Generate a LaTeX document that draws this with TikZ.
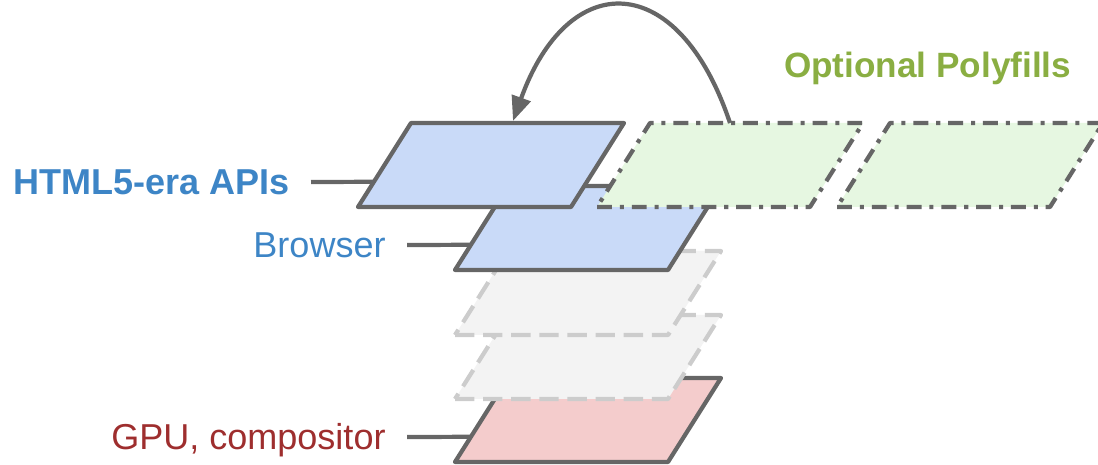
\documentclass[tikz,border=0pt]{standalone}
\usepackage{fontspec}
\setmainfont{Liberation Sans}
\usetikzlibrary{arrows.meta,calc}

\definecolor{edge}{RGB}{102,102,102}
\definecolor{ghostedge}{RGB}{204,204,204}
\definecolor{ghostfill}{RGB}{243,243,243}
\definecolor{bluefill}{RGB}{201,218,248}
\definecolor{redfill}{RGB}{244,204,204}
\definecolor{greenfill}{RGB}{230,247,225}
\definecolor{bluetext}{RGB}{61,133,198}
\definecolor{redtext}{RGB}{158,46,46}
\definecolor{greentext}{RGB}{138,174,66}

\newcommand{\tagsize}{\fontsize{20.5}{24}\selectfont}

\tikzset{
  solidlayer/.style = {draw = edge, line join = round},
  ghostlayer/.style = {draw = ghostedge, fill = ghostfill, line join = round,
                       dash pattern = on 11pt off 5pt},
  polylayer/.style = {draw = edge, fill = greenfill, line join = round,
                      dash pattern = on 8.5pt off 4.5pt on 2.3pt off 4.5pt},
  tag/.style = {anchor = east, font = \tagsize, inner xsep = 11pt, inner ysep = 0pt,
                text height = 14.5pt, text depth = 0pt},
  tagline/.style = {draw = edge}
}

\begin{document}
\begin{tikzpicture}[x = 0.02cm, y = -0.02cm, line width = 2.4pt]
\useasboundingbox (0,0) rectangle (1098,465);
% layer stack, bottom to top
\filldraw[solidlayer, fill = redfill] (455,462) coordinate (gpu) -- ++(213,0) -- ++(53,-84) -- ++(-213,0) coordinate (gpu-tl) -- cycle;
\filldraw[ghostlayer] (455,399) -- ++(213,0) -- ++(53,-84) -- ++(-213,0) -- cycle;
\filldraw[ghostlayer] (455,335) -- ++(213,0) -- ++(53,-84) -- ++(-213,0) -- cycle;
\filldraw[solidlayer, fill = bluefill] (455,270) coordinate (browser) -- ++(213,0) -- ++(53,-84) -- ++(-213,0) coordinate (browser-tl) -- cycle;
\filldraw[solidlayer, fill = bluefill] (358,207) coordinate (html) -- ++(213,0) -- ++(53,-84) -- ++(-213,0) coordinate (html-tl) -- cycle;
% polyfills sit beside the API layer
\filldraw[polylayer] (597,207) -- ++(213,0) -- ++(53,-84) -- ++(-213,0) -- cycle;
\filldraw[polylayer] (837,207) -- ++(213,0) -- ++(53,-84) -- ++(-213,0) -- cycle;
\coordinate (poly-top) at (730,123);
\coordinate (html-top) at (513,121);

% labels
\node[tag, text = bluetext, font = \fontsize{20.5}{24}\selectfont\bfseries] (html-tag) at (311,182) {HTML5-era APIs};
\node[tag, text = bluetext] (browser-tag) at (407,245) {Browser};
\node[tag, text = redtext] (gpu-tag) at (407,437) {GPU, compositor};
\node[anchor = base west, inner sep = 0pt, text = greentext, font = \fontsize{20}{24}\selectfont\bfseries] (poly-tag) at (782,78) {Optional Polyfills};

\draw[tagline] (html-tag.east) -- ($(html)!0.3!(html-tl)$);
\draw[tagline] (browser-tag.east) -- ($(browser)!0.3!(browser-tl)$);
\draw[tagline] (gpu-tag.east) -- ($(gpu)!0.3!(gpu-tl)$);

% polyfill feeding back into the API layer
\draw[edge, -{Triangle[length = 14pt, width = 11pt]}] (poly-top) .. controls (678,-32) and (568,-32) .. (html-top);
\end{tikzpicture}
\end{document}
